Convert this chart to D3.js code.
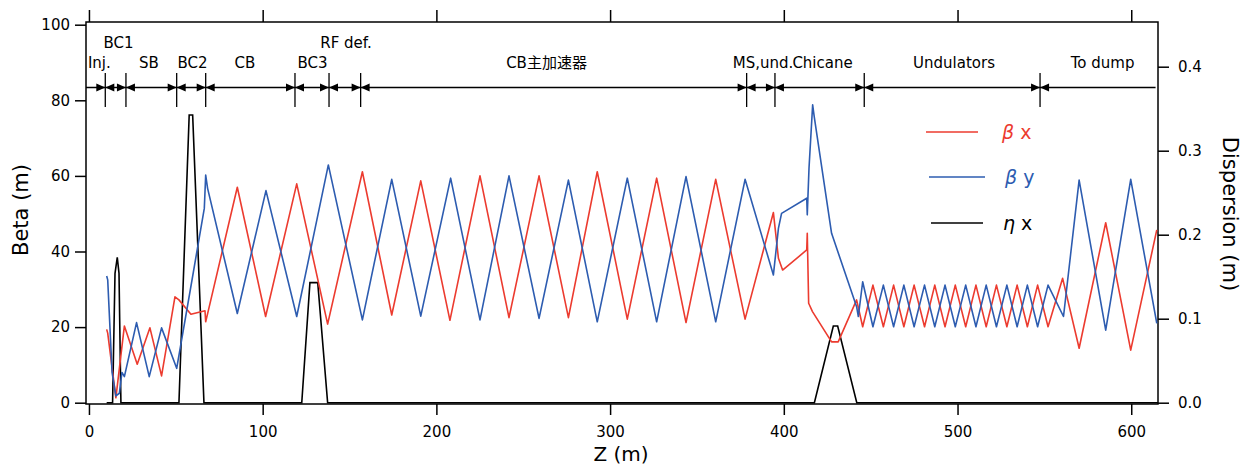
<!DOCTYPE html>
<html>
<head>
<meta charset="utf-8">
<script src="https://cdn.jsdelivr.net/npm/d3@7"></script>
<style>
  body { margin: 0; background: #fff; }
  svg text { font-family: "DejaVu Sans", "Noto Sans CJK JP", sans-serif; fill: #000; }
</style>
</head>
<body>
<svg id="chart" width="1245" height="465"></svg>
<script>
// valores (z em m)
const zBetaX = [10.2, 10.8, 15.5, 20.4, 27.8, 35.1, 41.8, 49.5, 51.8, 58.7, 66.8, 67.2, 85.4, 101.7, 119.6, 137.4,
  157.4, 174.3, 191.0, 207.8, 225.1, 241.8, 259.1, 276.0, 292.6, 309.9, 326.8, 343.7, 360.8, 377.7, 394.0, 396.9,
  399.3, 413.2, 413.5, 414.3, 416.5, 427.5, 431.3, 441.9, 445.4, 451.3, 457.3, 463.2, 469.1, 475.0, 481.0, 486.9,
  492.8, 498.7, 504.7, 510.6, 516.5, 522.4, 528.4, 534.3, 540.2, 546.1, 552.1, 560.5, 570.0, 585.3, 599.7, 614.7];
const betaX = [19.4, 18.4, 1.3, 20.3, 10.2, 19.8, 7.1, 28.0, 27.2, 23.4, 24.3, 21.4, 57.0, 22.8, 57.9, 20.8,
  61.1, 23.2, 58.7, 21.8, 60.0, 22.5, 60.0, 22.5, 61.1, 22.1, 59.4, 21.2, 59.1, 22.1, 50.3, 38.2,
  35.1, 40.4, 44.8, 26.3, 24.1, 16.1, 16.1, 27.2, 20.1, 31.1, 20.1, 31.1, 20.1, 31.1, 20.1, 31.1,
  20.1, 31.1, 20.1, 31.1, 20.1, 31.1, 20.1, 31.1, 20.1, 31.1, 20.1, 32.9, 14.4, 47.6, 13.9, 45.7];

const zBetaY = [10.2, 10.8, 13.3, 15.5, 17.5, 19.0, 20.4, 27.4, 34.7, 41.8, 50.5, 59.0, 66.4, 67.2, 68.3, 85.4,
  101.9, 119.6, 137.8, 157.4, 174.3, 191.0, 208.2, 225.1, 241.8, 259.1, 276.0, 292.6, 309.9, 326.8, 343.7, 360.8,
  377.7, 394.0, 396.9, 398.7, 413.2, 413.5, 414.5, 416.6, 417.5, 427.5, 441.9, 442.9, 445.4, 451.3, 457.3, 463.2,
  469.1, 475.0, 481.0, 486.9, 492.8, 498.7, 504.7, 510.6, 516.5, 522.4, 528.4, 534.3, 540.2, 546.1, 552.1, 561.0,
  570.0, 585.3, 599.7, 614.7];
const betaY = [33.5, 32.5, 8.0, 1.8, 2.5, 8.0, 6.9, 21.2, 6.9, 19.8, 9.1, 31.6, 51.4, 60.2, 56.7, 23.6,
  56.1, 22.8, 62.9, 21.9, 59.1, 22.9, 59.4, 21.9, 60.0, 22.3, 58.9, 21.4, 59.4, 21.4, 59.8, 21.4,
  59.1, 33.8, 46.1, 50.1, 54.1, 49.7, 62.0, 78.8, 75.7, 44.8, 25.4, 22.8, 32.0, 20.1, 31.1, 20.1,
  31.1, 20.1, 31.1, 20.1, 31.1, 20.1, 31.1, 20.1, 31.1, 20.1, 31.1, 20.1, 31.1, 20.1, 31.1, 22.8,
  58.9, 19.2, 59.1, 21.0];

const zEta = [10.2, 13.6, 15.0, 16.3, 17.3, 18.4, 51.8, 57.7, 59.7, 66.2, 122.5, 127.2, 131.7, 137.4,
  417.6, 428.5, 431.0, 442.0, 615.4];
const etaX = [0, 0, 0.154, 0.173, 0.154, 0, 0, 0.3425, 0.3425, 0, 0, 0.1429, 0.1429, 0,
  0, 0.0913, 0.0913, 0, 0];

// secções da linha
const sectionBounds = [9.4, 21.3, 50.5, 67.2, 118.6, 138.2, 156.4, 378.6, 394.9, 446.3, 547.5];
const sectionLabels = ["Inj.", "BC1", "SB", "BC2", "CB", "BC3", "RF def.", "CB主加速器", "MS,und.", "Chicane", "Undulators", "To dump"];
const sectionLabelZ = [6.0, 17.0, 34.5, 59.6, 89.8, 128.7, 148.0, 263.4, 388.0, 422.3, 498.0, 583.5];
const raisedLabels = ["BC1", "RF def."];

const zTicks = [0, 100, 200, 300, 400, 500, 600];
const betaTicks = [0, 20, 40, 60, 80, 100];
const etaTicks = [0, 0.1, 0.2, 0.3, 0.4];

const RED = "#ec3b2f", BLUE = "#2d5cb0";

const svg = d3.select("#chart");
const plotLeft = 86, plotRight = 1158, plotTop = 22, plotBottom = 404;

const x = d3.scaleLinear().domain([-1.7, 615.4]).range([plotLeft, plotRight]);
const yL = d3.scaleLinear().domain([0, 100]).range([402.7, 24.7]);
const yR = d3.scaleLinear().domain([0, 0.4]).range([402.7, 66.7]);

// moldura
svg.append("rect")
  .attr("x", plotLeft).attr("y", plotTop)
  .attr("width", plotRight - plotLeft).attr("height", plotBottom - plotTop)
  .attr("fill", "none").attr("stroke", "#000").attr("stroke-width", 1.5);

// eixos
const styleAxis = g => {
  g.select(".domain").remove();
  g.selectAll(".tick line").attr("stroke", "#000").attr("stroke-width", 1.5);
  g.selectAll(".tick text").style("font-size", "15px").attr("fill", "#000");
};

svg.append("g").attr("transform", `translate(${plotLeft},0)`)
  .call(d3.axisLeft(yL).tickValues(betaTicks).tickSize(11).tickPadding(5))
  .call(styleAxis);

svg.append("g").attr("transform", `translate(0,${plotBottom})`)
  .call(d3.axisBottom(x).tickValues(zTicks).tickSize(11).tickPadding(11))
  .call(styleAxis);

svg.append("g").attr("transform", `translate(0,${plotTop})`)
  .call(d3.axisTop(x).tickValues(zTicks).tickSize(12).tickFormat(""))
  .call(styleAxis);

svg.append("g").attr("transform", `translate(${plotRight},0)`)
  .call(d3.axisRight(yR).tickValues(etaTicks).tickSize(11).tickPadding(9).tickFormat(d3.format(".1f")))
  .call(styleAxis);

// títulos dos eixos
svg.append("text")
  .attr("transform", "translate(28,210) rotate(-90)")
  .attr("text-anchor", "middle").style("font-size", "21px")
  .text("Beta (m)");

svg.append("text")
  .attr("transform", "translate(1223,214) rotate(90)")
  .attr("text-anchor", "middle").style("font-size", "21px")
  .text("Dispersion (m)");

svg.append("text")
  .attr("x", 621).attr("y", 461)
  .attr("text-anchor", "middle").style("font-size", "20px")
  .text("Z (m)");

// curvas
const lineL = d3.line().x(d => x(d[0])).y(d => yL(d[1]));
const lineR = d3.line().x(d => x(d[0])).y(d => yR(d[1]));

svg.append("path").datum(d3.zip(zEta, etaX))
  .attr("d", lineR).attr("fill", "none").attr("stroke", "#000").attr("stroke-width", 1.6);

svg.append("path").datum(d3.zip(zBetaX, betaX))
  .attr("d", lineL).attr("fill", "none").attr("stroke", RED).attr("stroke-width", 1.6)
  .attr("stroke-linejoin", "round");

svg.append("path").datum(d3.zip(zBetaY, betaY))
  .attr("d", lineL).attr("fill", "none").attr("stroke", BLUE).attr("stroke-width", 1.6)
  .attr("stroke-linejoin", "round");

// setas das secções
const arrowY = 87.5;
const ann = svg.append("g");
ann.append("line")
  .attr("x1", plotLeft).attr("x2", x(614))
  .attr("y1", arrowY).attr("y2", arrowY)
  .attr("stroke", "#000").attr("stroke-width", 1.3);

sectionBounds.forEach(b => {
  const xb = x(b);
  ann.append("line")
    .attr("x1", xb).attr("x2", xb).attr("y1", 73).attr("y2", 107)
    .attr("stroke", "#000").attr("stroke-width", 1.3);
  ann.append("path")
    .attr("d", `M${xb},${arrowY}L${xb - 9},${arrowY - 4}L${xb - 9},${arrowY + 4}Z`)
    .attr("fill", "#000");
  ann.append("path")
    .attr("d", `M${xb},${arrowY}L${xb + 9},${arrowY - 4}L${xb + 9},${arrowY + 4}Z`)
    .attr("fill", "#000");
});

ann.selectAll(".sec-label").data(sectionLabels).enter().append("text")
  .attr("class", "sec-label")
  .attr("x", (d, i) => x(sectionLabelZ[i]))
  .attr("y", d => raisedLabels.includes(d) ? 47.5 : 67.5)
  .attr("text-anchor", "middle")
  .style("font-size", "15px")
  .text(d => d);

// legenda
const legend = [
  { greek: "β", sub: " x", color: RED, x1: 926, x2: 978, y: 132, tx: 1002 },
  { greek: "β", sub: " y", color: BLUE, x1: 929, x2: 985, y: 177, tx: 1005 },
  { greek: "η", sub: " x", color: "#000", x1: 931, x2: 983, y: 223, tx: 1003 }
];
legend.forEach(l => {
  svg.append("line")
    .attr("x1", l.x1).attr("x2", l.x2).attr("y1", l.y).attr("y2", l.y)
    .attr("stroke", l.color).attr("stroke-width", 1.6);
  const t = svg.append("text")
    .attr("x", l.tx).attr("y", l.y + 6.5)
    .style("font-size", "19px")
    .style("fill", l.color);
  t.append("tspan").style("font-style", "italic").text(l.greek);
  t.append("tspan").text(l.sub);
});
</script>
</body>
</html>
